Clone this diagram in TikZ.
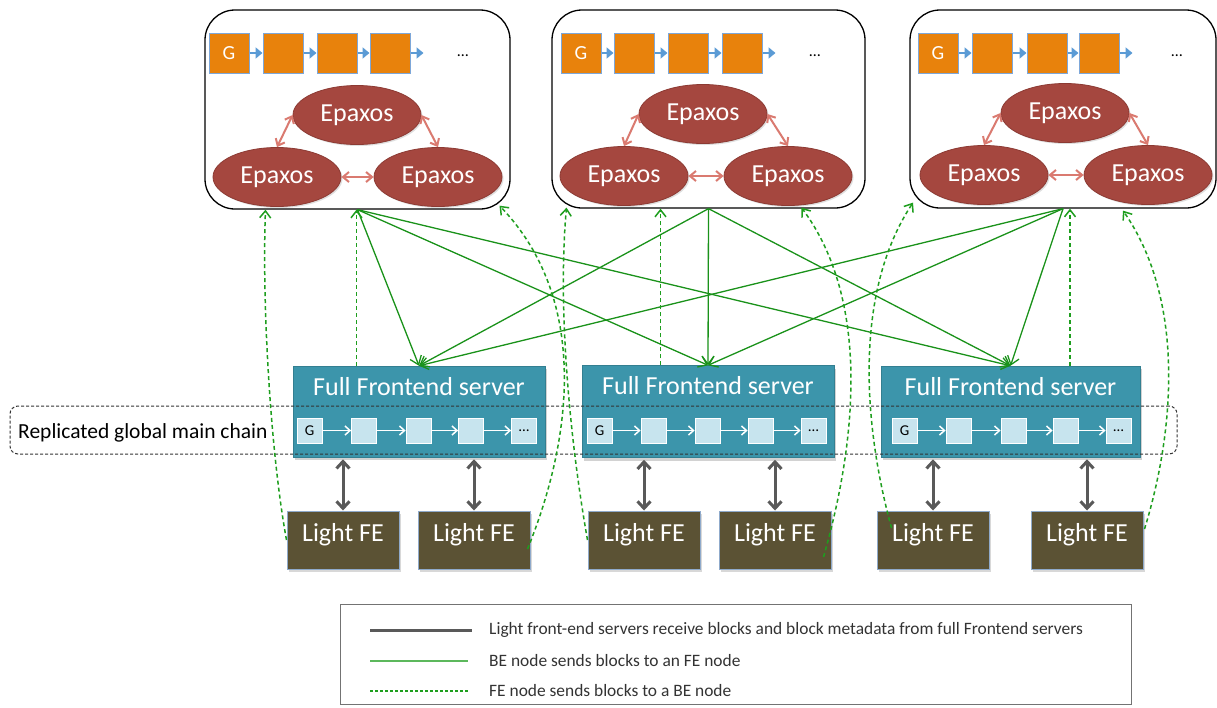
\documentclass[tikz,border=0pt]{standalone}
\usepackage{fontspec}
\setmainfont{Carlito}
\usetikzlibrary{arrows.meta,calc,shadows,shapes.geometric}
\definecolor{orangeB}{HTML}{E8820C}
\definecolor{sqborder}{HTML}{7DA7D9}
\definecolor{chainblue}{HTML}{5B9BD5}
\definecolor{epaxos}{HTML}{A5473F}
\definecolor{epaxosline}{HTML}{8C3A33}
\definecolor{redarrow}{HTML}{DA7A70}
\definecolor{ffe}{HTML}{3C95AB}
\definecolor{chainsq}{HTML}{C7E4EE}
\definecolor{lfe}{HTML}{5B5234}
\definecolor{lfeborder}{HTML}{8FAACB}
\definecolor{grayarrow}{HTML}{595959}
\definecolor{beline}{HTML}{1A921A}
\definecolor{fedash}{HTML}{1E9E1E}
\definecolor{legendgreen}{HTML}{5CB85C}
\definecolor{legendtext}{HTML}{333333}
\newcommand\myfs[1]{\fontsize{#1}{#1}\selectfont}
\begin{document}
\begin{tikzpicture}[x=1pt,y=-1pt,
  bebox/.style={draw=black, line width=1.3pt, rounded corners=30pt, fill=white, inner sep=0pt},
  osq/.style={fill=orangeB, draw=sqborder, line width=1pt, minimum size=40pt, inner sep=0pt, text=white, font=\myfs{20}},
  blk/.style={draw=chainblue, line width=2.8pt, -{Triangle[length=7pt,width=11pt]}},
  ep/.style={ellipse, fill=epaxos, draw=epaxosline, line width=0.8pt, text=white, font=\myfs{26}, inner sep=0pt, minimum width=128pt, minimum height=59pt, drop shadow={opacity=0.25,shadow xshift=1.5pt,shadow yshift=-1.5pt}},
  redarr/.style={draw=redarrow, line width=2pt, {Straight Barb[length=6pt,width=10pt]}-{Straight Barb[length=6pt,width=10pt]}},
  ffebox/.style={fill=ffe, draw=ffe!85!black, line width=0.5pt, inner sep=0pt, drop shadow={opacity=0.35,shadow xshift=2pt,shadow yshift=-3pt}},
  ffetitle/.style={text=white, font=\myfs{26}, inner sep=0pt},
  csq/.style={fill=chainsq, draw=white, line width=0.8pt, minimum size=25pt, inner sep=0pt, font=\myfs{15}},
  warr/.style={draw=white, line width=1.5pt, -{Straight Barb[length=5pt,width=9pt]}},
  lfebox/.style={fill=lfe, draw=lfeborder, line width=1pt, minimum width=112pt, minimum height=58pt, text=white, font=\myfs{26}, text depth=15pt, inner sep=0pt, drop shadow={opacity=0.3,shadow xshift=2pt,shadow yshift=-3pt}},
  grayarr/.style={draw=grayarrow, line width=3pt, {Straight Barb[length=7pt,width=13pt]}-{Straight Barb[length=7pt,width=13pt]}},
  besend/.style={draw=beline, line width=1.3pt, -{Straight Barb[length=8pt,width=12pt]}},
  fesend/.style={draw=fedash, line width=1.5pt, dash pattern=on 4pt off 3pt, -{Straight Barb[length=7pt,width=11pt]}},
  band/.style={draw=black!80, line width=1pt, dash pattern=on 3pt off 2pt, rounded corners=8pt, inner sep=0pt},
  legtext/.style={anchor=west, text=legendtext, font=\myfs{17.4}, inner sep=0pt}
]
\fill[white] (0,0) rectangle (1217,707);
\useasboundingbox (0,0) rectangle (1217,707);

% ---------- BE boxes ----------
\node[bebox, minimum width=305pt, minimum height=199pt] (be1) at (357.5,109.5) {};
\node[bebox, minimum width=313pt, minimum height=198pt] (be2) at (708.5,109) {};
\node[bebox, minimum width=306pt, minimum height=198pt] (be3) at (1063,109) {};

\foreach \b/\xa/\xb/\xc/\xd/\xdots in {1/229/283/337/390/463, 2/581/634/688/742/815, 3/938/992/1047/1099/1177} {
  \node[osq] (ob\b-a) at (\xa,53) {G};
  \node[osq] (ob\b-b) at (\xb,53) {};
  \node[osq] (ob\b-c) at (\xc,53) {};
  \node[osq] (ob\b-d) at (\xd,53) {};
  \coordinate (ob\b-e) at ($(ob\b-d.east)+(13,0)$);
  \draw[blk] (ob\b-a.east) -- (ob\b-b.west);
  \draw[blk] (ob\b-b.east) -- (ob\b-c.west);
  \draw[blk] (ob\b-c.east) -- (ob\b-d.west);
  \draw[blk] (ob\b-d.east) -- (ob\b-e);
  \node[font=\myfs{16}, inner sep=0pt] (dots\b) at (\xdots,56) {…};
}

\foreach \b/\tx/\ty/\lx/\ly/\rx/\ry in {1/357/115/277/177/438/177, 2/703/114/624/176/788/176, 3/1065/113/984/175/1148/175} {
  \node[ep] (ept\b) at (\tx,\ty) {Epaxos};
  \node[ep] (epl\b) at (\lx,\ly) {Epaxos};
  \node[ep] (epr\b) at (\rx,\ry) {Epaxos};
  \draw[redarr] (ept\b.west) -- (epl\b.north);
  \draw[redarr] (ept\b.east) -- (epr\b.north);
  \draw[redarr] (epl\b.east) -- (epr\b.west);
}

% ---------- Full frontend servers ----------
\node[ffebox, minimum width=252pt, minimum height=91pt] (ffe1) at (419,411.5) {};
\node[ffebox, minimum width=252pt, minimum height=92pt] (ffe2) at (708,411.5) {};
\node[ffebox, minimum width=259pt, minimum height=91pt] (ffe3) at (1010.5,411.5) {};
\node[ffetitle] (ffe1t) at (419,387) {Full Frontend server};
\node[ffetitle] (ffe2t) at (708,386) {Full Frontend server};
\node[ffetitle] (ffe3t) at (1010.5,387) {Full Frontend server};

\foreach \f/\xa/\xb/\xc/\xd/\xe in {1/309.5/364/418.5/471/524, 2/599.5/653.5/707.5/760.5/813.5, 3/904.5/958.5/1013.5/1065.5/1118.5} {
  \node[csq] (cs\f-a) at (\xa,430.5) {G};
  \node[csq] (cs\f-b) at (\xb,430.5) {};
  \node[csq] (cs\f-c) at (\xc,430.5) {};
  \node[csq] (cs\f-d) at (\xd,430.5) {};
  \node[csq] (cs\f-e) at (\xe,430.5) {…};
  \draw[warr] (cs\f-a.east) -- (cs\f-b.west);
  \draw[warr] (cs\f-b.east) -- (cs\f-c.west);
  \draw[warr] (cs\f-c.east) -- (cs\f-d.west);
  \draw[warr] (cs\f-d.east) -- (cs\f-e.west);
}

% ---------- replicated chain band ----------
\node[band, minimum width=1167pt, minimum height=48pt] (chainband) at (593.5,430) {};
\node[anchor=west, font=\myfs{21.5}, inner sep=0pt] (bandlabel) at (18,433) {Replicated global main chain};

% ---------- Light FE ----------
\node[lfebox] (lfe1) at (343,540) {Light FE};
\node[lfebox] (lfe2) at (474,540) {Light FE};
\node[lfebox] (lfe3) at (644,540) {Light FE};
\node[lfebox] (lfe4) at (775,540) {Light FE};
\node[lfebox] (lfe5) at (933,540) {Light FE};
\node[lfebox] (lfe6) at (1087,540) {Light FE};

\draw[grayarr] ($(lfe1.north |- ffe1.south)+(0,2)$) -- (lfe1.north);
\draw[grayarr] ($(lfe2.north |- ffe1.south)+(0,2)$) -- (lfe2.north);
\draw[grayarr] ($(lfe3.north |- ffe2.south)+(0,2)$) -- (lfe3.north);
\draw[grayarr] ($(lfe4.north |- ffe2.south)+(0,2)$) -- (lfe4.north);
\draw[grayarr] ($(lfe5.north |- ffe3.south)+(0,2)$) -- (lfe5.north);
\draw[grayarr] ($(lfe6.north |- ffe3.south)+(0,2)$) -- (lfe6.north);

% ---------- BE -> FE ----------
\foreach \i in {1,2,3} {
  \foreach \j in {1,2,3} {
    \draw[besend] (be\i.south) -- (ffe\j.north);
  }
}

% ---------- FE -> BE (dashed) ----------
\coordinate (d1) at ($(be1.south)+(-1,0)$);
\coordinate (d2) at ($(be2.south)+(-48,0)$);
\coordinate (d3) at ($(be3.south)+(7,0)$);
\draw[fesend] (d1 |- ffe1.north) -- (d1);
\draw[fesend] (d2 |- ffe2.north) -- (d2);
\draw[fesend] (d3 |- ffe3.north) -- (d3);

\coordinate (e1) at ($(be1.south)+(-92,0)$);
\coordinate (e2) at ($(be1.south)+(142,-4)$);
\coordinate (e3) at ($(be2.south)+(-142,-1)$);
\coordinate (e4) at ($(be2.south)+(93,-1)$);
\coordinate (e5) at ($(be3.south)+(-150,-6)$);
\coordinate (e6) at ($(be3.south)+(60,2)$);

\draw[fesend] (lfe1.west) .. controls (270,450) and (262,300) .. (e1);
\draw[fesend] ($(lfe2.east)+(-3,9)$) .. controls (572,440) and (590,300) .. (e2);
\draw[fesend] (lfe3.west) .. controls (568,430) and (558,300) .. (e3);
\draw[fesend] ($(lfe4.east)+(-8,17)$) .. controls (857,440) and (870,300) .. (e4);
\draw[fesend] ($(lfe5.west)+(15,-12)$) .. controls (862,420) and (855,290) .. (e5);
\draw[fesend] ($(lfe6.east)+(1,-11)$) .. controls (1175,430) and (1185,300) .. (e6);

% ---------- legend ----------
\node[draw=black!55, line width=1pt, minimum width=791pt, minimum height=100pt, inner sep=0pt] (legend) at (735.5,654) {};
\coordinate (la1) at (370,630); \coordinate (lb1) at (472,630);
\coordinate (la2) at (370,661); \coordinate (lb2) at (468,661);
\coordinate (la3) at (370,691); \coordinate (lb3) at (468,691);
\draw[draw=grayarrow, line width=3pt] (la1) -- (lb1);
\draw[draw=legendgreen, line width=1.8pt] (la2) -- (lb2);
\draw[draw=fedash, line width=1.3pt, dash pattern=on 3pt off 2pt] (la3) -- (lb3);
\node[legtext] (lt1) at (489,630) {Light front-end servers receive blocks and block metadata from full Frontend servers};
\node[legtext] (lt2) at (489,661) {BE node sends blocks to an FE node};
\node[legtext] (lt3) at (489,691) {FE node sends blocks to a BE node};
\end{tikzpicture}
\end{document}
